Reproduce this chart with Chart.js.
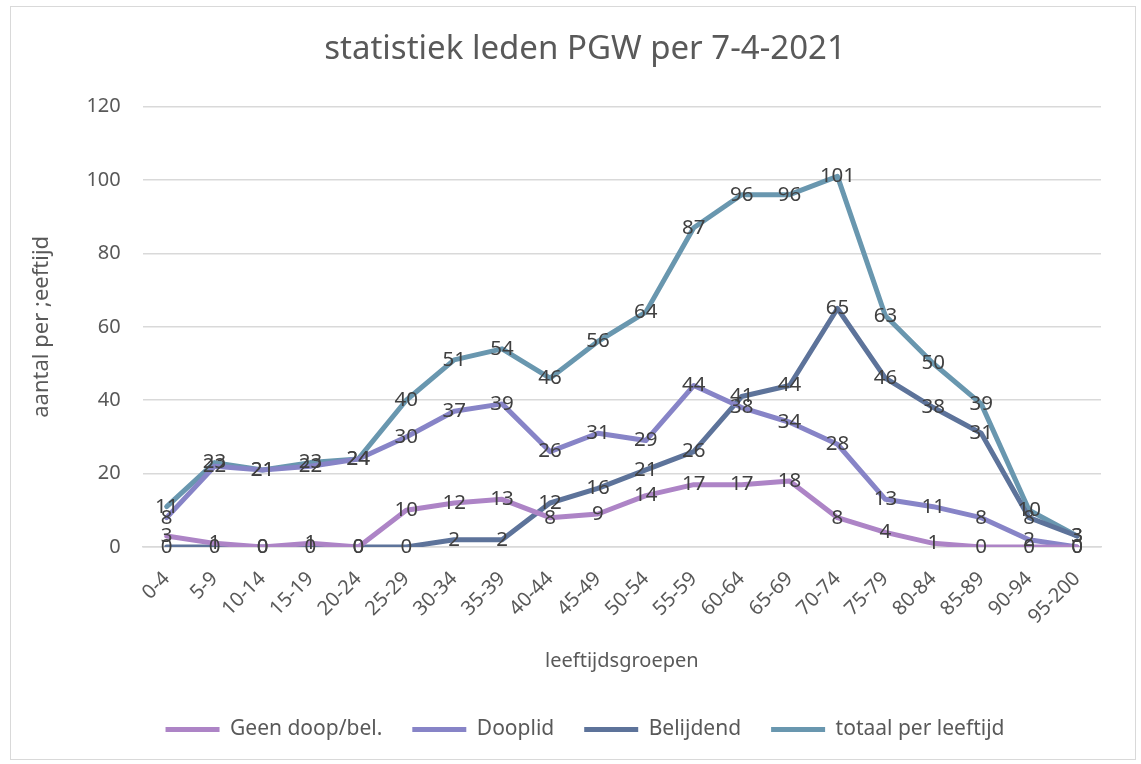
<!DOCTYPE html>
<html>
<head>
<meta charset="utf-8">
<script src="https://cdn.jsdelivr.net/npm/chart.js@4"></script>
<style>
    html, body { margin: 0; padding: 0; background: #fff; }
    #wrap { position: absolute; left: 0; top: 0; width: 1141px; height: 764px; }
    #frame { position: absolute; left: 10px; top: 6px; width: 1126px; height: 754px; border: 1px solid #d9d9d9; box-sizing: border-box; }
</style>
</head>
<body>
<div id="frame"></div>
<div id="wrap"><canvas id="chart" width="1141" height="764"></canvas></div>
<script>
// --- data ---
const categories = ["0-4", "5-9", "10-14", "15-19", "20-24", "25-29", "30-34", "35-39", "40-44", "45-49",
    "50-54", "55-59", "60-64", "65-69", "70-74", "75-79", "80-84", "85-89", "90-94", "95-200"];
const geenDoop = [3, 1, 0, 1, 0, 10, 12, 13, 8, 9, 14, 17, 17, 18, 8, 4, 1, 0, 0, 0];
const dooplid = [8, 22, 21, 22, 24, 30, 37, 39, 26, 31, 29, 44, 38, 34, 28, 13, 11, 8, 2, 0];
const belijdend = [0, 0, 0, 0, 0, 0, 2, 2, 12, 16, 21, 26, 41, 44, 65, 46, 38, 31, 8, 3];
const totaal = [11, 23, 21, 23, 24, 40, 51, 54, 46, 56, 64, 87, 96, 96, 101, 63, 50, 39, 10, 3];
const yTicks = [0, 20, 40, 60, 80, 100, 120];

const FONT = "'Noto Sans', 'Open Sans', sans-serif";

// draws the value of each point on top of it, like Excel's data labels
const pointLabels = {
    id: 'pointLabels',
    afterDatasetsDraw(chart) {
        const ctx = chart.ctx;
        ctx.save();
        ctx.font = `20.5px ${FONT}`;
        ctx.fillStyle = '#404040';
        ctx.textAlign = 'center';
        ctx.textBaseline = 'middle';
        chart.data.datasets.forEach((ds, i) => {
            const meta = chart.getDatasetMeta(i);
            meta.data.forEach((pt, j) => {
                ctx.fillText(String(ds.data[j]), pt.x, pt.y);
            });
        });
        ctx.restore();
    }
};

function series(label, data, color) {
    return {
        label: label,
        data: data,
        borderColor: color,
        backgroundColor: color,
        borderWidth: 5,
        borderCapStyle: 'round',
        borderJoinStyle: 'round',
        pointRadius: 0,
        pointHoverRadius: 0,
        pointStyle: 'line',
        tension: 0
    };
}

new Chart(document.getElementById('chart'), {
    type: 'line',
    data: {
        labels: categories,
        datasets: [
            series('Geen doop/bel.', geenDoop, '#ad84c6'),
            series('Dooplid', dooplid, '#8784c7'),
            series('Belijdend', belijdend, '#5d739a'),
            series('totaal per leeftijd', totaal, '#6997af')
        ]
    },
    options: {
        responsive: false,
        animation: false,
        layout: { padding: { left: 29, right: 0, top: 18, bottom: 14 } },
        scales: {
            x: {
                offset: true,
                grid: { display: false, drawTicks: false },
                border: { color: '#d9d9d9', width: 1.5 },
                ticks: {
                    color: '#595959',
                    font: { family: FONT, size: 20 },
                    maxRotation: 45,
                    minRotation: 45,
                    autoSkip: false,
                    padding: 20
                },
                title: {
                    display: true,
                    text: 'leeftijdsgroepen',
                    color: '#595959',
                    font: { family: FONT, size: 20 },
                    padding: { top: 0, bottom: 16 }
                }
            },
            y: {
                min: 0,
                max: 120,
                afterBuildTicks(axis) {
                    axis.ticks = yTicks.map(v => ({ value: v }));
                },
                grid: { color: '#d9d9d9', lineWidth: 1.5, drawTicks: false },
                border: { display: false },
                ticks: {
                    color: '#595959',
                    font: { family: FONT, size: 20 },
                    padding: 22
                },
                title: {
                    display: true,
                    text: 'aantal per ;eeftijd',
                    color: '#595959',
                    font: { family: FONT, size: 22 },
                    padding: { top: 0, bottom: 9 }
                }
            },
            // empty right-hand axis, only keeps the margin on the right of the plot
            yRight: {
                position: 'right',
                display: true,
                grid: { display: false },
                border: { display: false },
                ticks: { display: false },
                afterFit(axis) { axis.width = 40; }
            }
        },
        plugins: {
            title: {
                display: true,
                text: 'statistiek leden PGW per 7-4-2021',
                color: '#595959',
                font: { family: FONT, size: 33, weight: 'normal' },
                padding: { top: 12, bottom: 37 }
            },
            legend: {
                position: 'bottom',
                labels: {
                    usePointStyle: true,
                    pointStyleWidth: 54,
                    boxHeight: 20,
                    color: '#595959',
                    font: { family: FONT, size: 21 },
                    padding: 30
                }
            },
            tooltip: { enabled: false }
        }
    },
    plugins: [pointLabels]
});
</script>
</body>
</html>
